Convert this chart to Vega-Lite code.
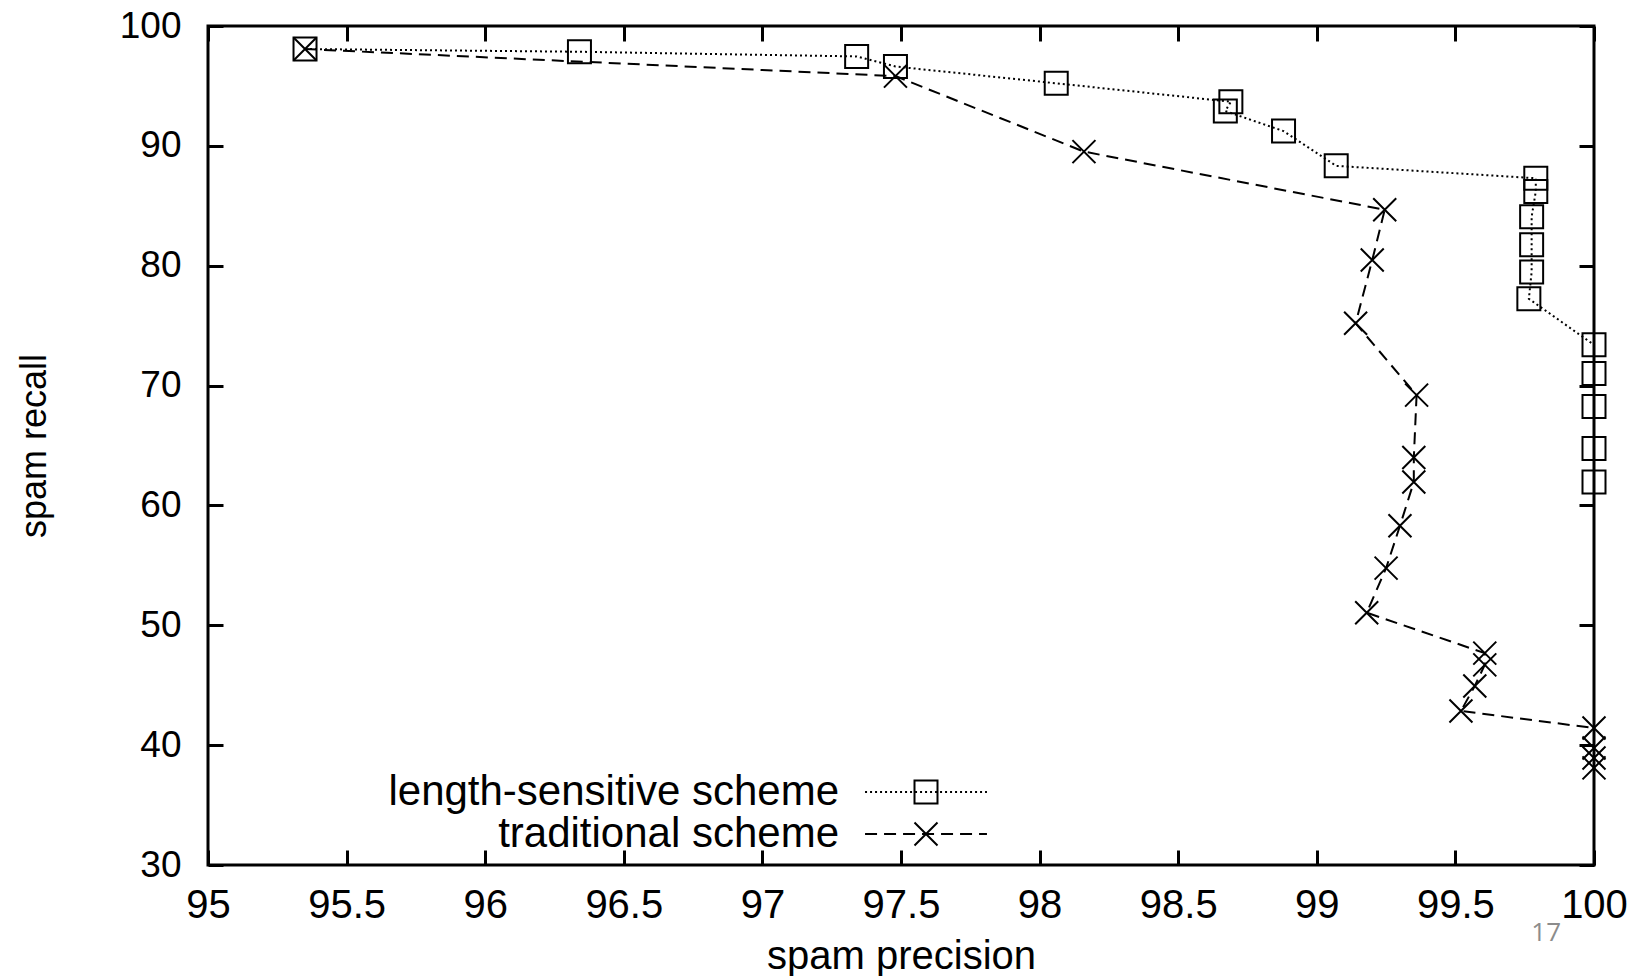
{
  "$schema": "https://vega.github.io/schema/vega-lite/v6.json",
  "width": 1386,
  "height": 839,
  "autosize": {"type": "none"},
  "padding": {"left": 208, "top": 26, "right": 54, "bottom": 111},
  "background": "white",
  "title": {"text": "17", "orient": "bottom", "anchor": "end", "frame": "group", "dx": -33, "dy": -60, "fontSize": 26, "font": "Open Sans", "fontWeight": "normal", "color": "#8c8c8c"},
  "config": {
    "view": {"stroke": "black", "strokeWidth": 3},
    "font": "Liberation Sans",
    "axis": {"grid": false, "domain": false, "tickColor": "black", "tickWidth": 3, "tickSize": -15, "labelColor": "black", "titleColor": "black", "labelFont": "Liberation Sans", "titleFont": "Liberation Sans", "titleFontWeight": "normal", "labelFlush": false, "labelOverlap": false}
  },
  "data": {"values": [
    {"scheme": "length-sensitive scheme", "method": "length-sensitive", "precision": 95.35, "recall": 98.08},
    {"scheme": "length-sensitive scheme", "method": "length-sensitive", "precision": 96.34, "recall": 97.85},
    {"scheme": "length-sensitive scheme", "method": "length-sensitive", "precision": 97.34, "recall": 97.46},
    {"scheme": "length-sensitive scheme", "method": "length-sensitive", "precision": 97.48, "recall": 96.62},
    {"scheme": "length-sensitive scheme", "method": "length-sensitive", "precision": 98.06, "recall": 95.22},
    {"scheme": "length-sensitive scheme", "method": "length-sensitive", "precision": 98.69, "recall": 93.68},
    {"scheme": "length-sensitive scheme", "method": "length-sensitive", "precision": 98.67, "recall": 92.9},
    {"scheme": "length-sensitive scheme", "method": "length-sensitive", "precision": 98.88, "recall": 91.23},
    {"scheme": "length-sensitive scheme", "method": "length-sensitive", "precision": 99.07, "recall": 88.33},
    {"scheme": "length-sensitive scheme", "method": "length-sensitive", "precision": 99.79, "recall": 87.3},
    {"scheme": "length-sensitive scheme", "method": "length-sensitive", "precision": 99.79, "recall": 86.2},
    {"scheme": "length-sensitive scheme", "method": "length-sensitive", "precision": 99.775, "recall": 84.08},
    {"scheme": "length-sensitive scheme", "method": "length-sensitive", "precision": 99.775, "recall": 81.75},
    {"scheme": "length-sensitive scheme", "method": "length-sensitive", "precision": 99.775, "recall": 79.47},
    {"scheme": "length-sensitive scheme", "method": "length-sensitive", "precision": 99.765, "recall": 77.24},
    {"scheme": "length-sensitive scheme", "method": "length-sensitive", "precision": 100, "recall": 73.4},
    {"scheme": "length-sensitive scheme", "method": "length-sensitive", "precision": 100, "recall": 71.0},
    {"scheme": "length-sensitive scheme", "method": "length-sensitive", "precision": 100, "recall": 68.25},
    {"scheme": "length-sensitive scheme", "method": "length-sensitive", "precision": 100, "recall": 64.75},
    {"scheme": "length-sensitive scheme", "method": "length-sensitive", "precision": 100, "recall": 61.95},
    {"scheme": "traditional scheme", "method": "traditional", "precision": 95.35, "recall": 98.08},
    {"scheme": "traditional scheme", "method": "traditional", "precision": 97.48, "recall": 95.82},
    {"scheme": "traditional scheme", "method": "traditional", "precision": 98.16, "recall": 89.52},
    {"scheme": "traditional scheme", "method": "traditional", "precision": 99.245, "recall": 84.67},
    {"scheme": "traditional scheme", "method": "traditional", "precision": 99.2, "recall": 80.47},
    {"scheme": "traditional scheme", "method": "traditional", "precision": 99.14, "recall": 75.2},
    {"scheme": "traditional scheme", "method": "traditional", "precision": 99.36, "recall": 69.2},
    {"scheme": "traditional scheme", "method": "traditional", "precision": 99.35, "recall": 64.0},
    {"scheme": "traditional scheme", "method": "traditional", "precision": 99.35, "recall": 61.96},
    {"scheme": "traditional scheme", "method": "traditional", "precision": 99.3, "recall": 58.3},
    {"scheme": "traditional scheme", "method": "traditional", "precision": 99.25, "recall": 54.77},
    {"scheme": "traditional scheme", "method": "traditional", "precision": 99.18, "recall": 51.05},
    {"scheme": "traditional scheme", "method": "traditional", "precision": 99.606, "recall": 47.68},
    {"scheme": "traditional scheme", "method": "traditional", "precision": 99.606, "recall": 46.7},
    {"scheme": "traditional scheme", "method": "traditional", "precision": 99.57, "recall": 44.94},
    {"scheme": "traditional scheme", "method": "traditional", "precision": 99.52, "recall": 42.85},
    {"scheme": "traditional scheme", "method": "traditional", "precision": 100, "recall": 41.43},
    {"scheme": "traditional scheme", "method": "traditional", "precision": 100, "recall": 39.76},
    {"scheme": "traditional scheme", "method": "traditional", "precision": 100, "recall": 38.93},
    {"scheme": "traditional scheme", "method": "traditional", "precision": 100, "recall": 38.1}
  ]},
  "layer": [
    {
      "mark": {"type": "line", "color": "black", "strokeWidth": 2, "clip": false},
      "encoding": {
        "x": {"field": "precision", "type": "quantitative",
              "scale": {"domain": [95, 100], "nice": false, "zero": false},
              "axis": {"orient": "bottom", "values": [95, 95.5, 96, 96.5, 97, 97.5, 98, 98.5, 99, 99.5, 100], "labelExpr": "format(datum.value, '')", "labelFontSize": 40, "labelPadding": 35, "title": "spam precision", "titleFontSize": 40, "titlePadding": 11}},
        "y": {"field": "recall", "type": "quantitative",
              "scale": {"domain": [30, 100], "nice": false, "zero": false},
              "axis": {"orient": "left", "values": [30, 40, 50, 60, 70, 80, 90, 100], "labelExpr": "format(datum.value, 'd')", "labelFontSize": 37, "labelPadding": 42, "title": "spam recall", "titleFontSize": 36, "titlePadding": 66}},
        "order": {"field": "recall", "sort": "descending"},
        "strokeDash": {"field": "scheme", "type": "nominal",
              "scale": {"range": [[2, 3], [12, 7]]},
              "legend": {"title": null, "orient": "none", "legendX": 697, "legendY": 745, "padding": 0,
                          "symbolType": "M-5.3,0L5.3,0", "symbolSize": 529, "symbolStrokeWidth": 2, "symbolStrokeColor": "black",
                          "labelAlign": "right", "labelOffset": -108, "labelLimit": 800, "labelFontSize": 42, "labelFont": "Liberation Sans", "labelColor": "black", "rowPadding": 0}}
      }
    },
    {
      "mark": {"type": "point", "filled": false, "color": "black", "strokeWidth": 2, "size": 529, "opacity": 1, "clip": false},
      "encoding": {
        "x": {"field": "precision", "type": "quantitative",
              "axis": {"orient": "top", "values": [95, 95.5, 96, 96.5, 97, 97.5, 98, 98.5, 99, 99.5, 100], "labels": false, "title": null}},
        "y": {"field": "recall", "type": "quantitative",
              "axis": {"orient": "right", "values": [30, 40, 50, 60, 70, 80, 90, 100], "labels": false, "title": null}},
        "shape": {"field": "method", "type": "nominal",
              "scale": {"range": ["square", "M-1,-1L1,1M1,-1L-1,1"]},
              "legend": {"title": null, "orient": "none", "legendX": 697, "legendY": 745, "padding": 0,
                          "symbolSize": 529, "symbolStrokeWidth": 2, "symbolStrokeColor": "black", "symbolFillColor": "transparent",
                          "labelAlign": "right", "labelOffset": -108, "labelLimit": 800, "labelFontSize": 42, "labelExpr": "''", "rowPadding": 0}}
      }
    }
  ],
  "resolve": {"axis": {"x": "independent", "y": "independent"}}
}
